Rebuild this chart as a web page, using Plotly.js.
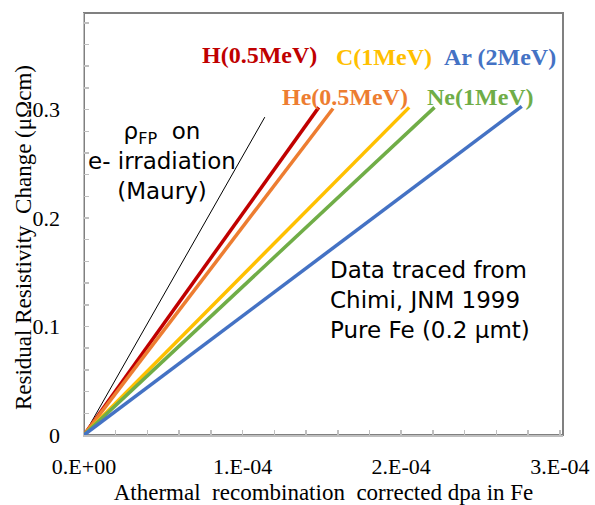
<!DOCTYPE html>
<html>
<head>
<meta charset="utf-8">
<script src="https://cdn.plot.ly/plotly-3.0.1.min.js"></script>
<style>html,body{margin:0;padding:0;background:#fff}#chart{width:595px;height:505px}</style>
</head>
<body>
<div id="chart"></div>
<script>
// Series: straight lines from origin to traced end points
const seriesNames = ["ρFP (Maury)", "H(0.5MeV)", "He(0.5MeV)", "C(1MeV)", "Ne(1MeV)", "Ar (2MeV)"];
const seriesX = [
  [0, 1.14e-4],
  [0, 1.48e-4],
  [0, 1.57e-4],
  [0, 2.05e-4],
  [0, 2.21e-4],
  [0, 2.76e-4]
];
const seriesY = [
  [0, 0.293],
  [0, 0.302],
  [0, 0.301],
  [0, 0.302],
  [0, 0.302],
  [0, 0.303]
];
const seriesColors = ["#000000", "#C00000", "#ED7D31", "#FFC000", "#70AD47", "#4472C4"];
const seriesWidths = [1, 3.5, 3.5, 3.5, 3.5, 3.5];

const xTickVals = [0, 1e-4, 2e-4, 3e-4];
const xTickText = ["0.E+00", "1.E-04", "2.E-04", "3.E-04"];
const yTickVals = [0, 0.1, 0.2, 0.3];
const yTickText = ["0", "0.1", "0.2", "0.3"];

const traces = seriesNames.map((n, i) => ({
  type: "scatter", mode: "lines", name: n,
  x: seriesX[i], y: seriesY[i],
  line: {color: seriesColors[i], width: seriesWidths[i]},
  hoverinfo: "skip"
}));

const serif = "Liberation Serif, Times New Roman, serif";
const sans = "DejaVu Sans, sans-serif";

function lab(text, x, y, color) {
  return {text: "<b>" + text + "</b>", x: x, y: y, xref: "paper", yref: "paper",
    showarrow: false, xanchor: "center", yanchor: "middle",
    font: {family: serif, size: 24, color: color}};
}

const layout = {
  width: 595, height: 505,
  margin: {l: 84, r: 32, t: 13, b: 70},
  paper_bgcolor: "#ffffff", plot_bgcolor: "#ffffff",
  showlegend: false,
  xaxis: {
    range: [0, 3.02e-4], tickvals: xTickVals, ticktext: xTickText,
    ticks: "inside", ticklen: 5, tickcolor: "#bfbfbf", tickwidth: 1.5,
    minor: {dtick: 2e-5, tick0: 0, ticks: "inside", ticklen: 5, tickcolor: "#bfbfbf", tickwidth: 1.5},
    showgrid: false, zeroline: false, showline: true, linecolor: "#bfbfbf", linewidth: 1.5,
    ticklabelstandoff: 11,
    tickfont: {family: serif, size: 22, color: "#000"},
    title: {text: "Athermal&nbsp; recombination&nbsp; corrected dpa in Fe", font: {family: serif, size: 23, color: "#000"}, standoff: 6}
  },
  yaxis: {
    range: [0, 0.389], tickvals: yTickVals, ticktext: yTickText,
    ticks: "inside", ticklen: 5, tickcolor: "#bfbfbf", tickwidth: 1.5,
    minor: {dtick: 0.02, tick0: 0, ticks: "inside", ticklen: 5, tickcolor: "#bfbfbf", tickwidth: 1.5},
    showgrid: false, zeroline: false, showline: true, linecolor: "#bfbfbf", linewidth: 1.5,
    ticklabelstandoff: 18,
    tickfont: {family: serif, size: 22, color: "#000"}
  },
  shapes: [
    {type: "rect", xref: "paper", yref: "paper", x0: 0, x1: 1, y0: 0, y1: 1,
     line: {color: "#808080", width: 2}, layer: "below"}
  ],
  annotations: [
    {text: "Residual Resistivity&nbsp; Change (μΩcm)", x: -0.125, y: 0.467, xref: "paper", yref: "paper",
     textangle: -90, showarrow: false, xanchor: "center", yanchor: "middle",
     font: {family: serif, size: 23, color: "#000"}},
    lab("H(0.5MeV)", 0.367, 0.900, "#C00000"),
    lab("C(1MeV)", 0.626, 0.896, "#FFC000"),
    lab("Ar (2MeV)", 0.868, 0.896, "#4472C4"),
    lab("He(0.5MeV)", 0.545, 0.801, "#ED7D31"),
    lab("Ne(1MeV)", 0.827, 0.801, "#70AD47"),
    {text: "ρ<sub>FP</sub>  on<br>e- irradiation<br>(Maury)", x: 0.163, y: 0.650,
     xref: "paper", yref: "paper", showarrow: false, xanchor: "center", yanchor: "middle",
     font: {family: sans, size: 23, color: "#000"}},
    {text: "Data traced from<br>Chimi, JNM 1999<br>Pure Fe (0.2 μmt)", x: 0.509, y: 0.320,
     xref: "paper", yref: "paper", showarrow: false, xanchor: "left", yanchor: "middle", align: "left",
     font: {family: sans, size: 23, color: "#000"}}
  ]
};

Plotly.newPlot("chart", traces, layout, {staticPlot: true, displayModeBar: false});
</script>
</body>
</html>
